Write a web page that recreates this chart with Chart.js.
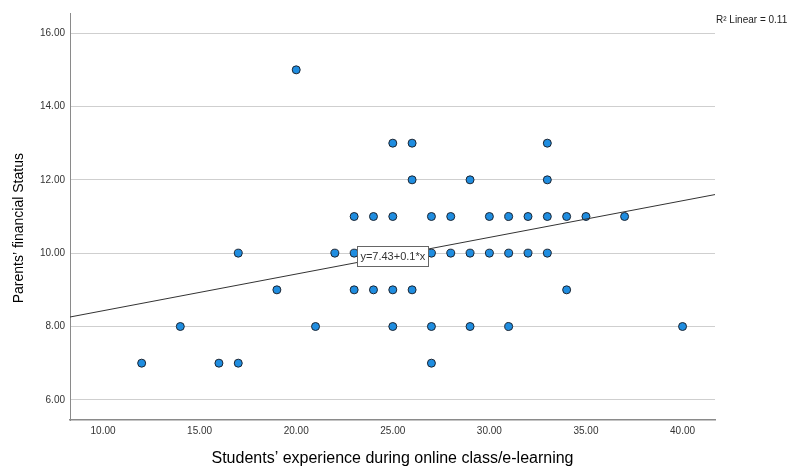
<!DOCTYPE html>
<html>
<head>
<meta charset="utf-8">
<script src="https://cdn.jsdelivr.net/npm/chart.js@4"></script>
<style>
  html, body { margin: 0; padding: 0; background: #fff; }
  #wrap { width: 788px; height: 468px; }
</style>
</head>
<body>
<div id="wrap"><canvas id="scatterChart" width="788" height="468"></canvas></div>
<script>
// students' experience (x) and parents' financial status (y), one entry per dot
const experience = [
  20,
  25, 26, 33,
  26, 29, 33,
  23, 24, 25, 27, 28, 30, 31, 32, 33, 34, 35, 37,
  17, 22, 23, 27, 28, 29, 30, 31, 32, 33,
  19, 23, 24, 25, 26, 34,
  14, 21, 25, 27, 29, 31, 40,
  12, 16, 17, 27
];
const financialStatus = [
  15,
  13, 13, 13,
  12, 12, 12,
  11, 11, 11, 11, 11, 11, 11, 11, 11, 11, 11, 11,
  10, 10, 10, 10, 10, 10, 10, 10, 10, 10,
  9, 9, 9, 9, 9, 9,
  8, 8, 8, 8, 8, 8, 8,
  7, 7, 7, 7
];
const xTicks = [10, 15, 20, 25, 30, 35, 40];
const yTicks = [6, 8, 10, 12, 14, 16];
const xRange = [8.29, 41.68];
const yRange = [5.45, 16.55];

// fit line from the chart: y = 7.43 + 0.1*x, R2 = 0.11
const intercept = 7.43;
const slope = 0.1;
const rSquared = '0.11';
const labelAtX = 25;

const FONT = '"Liberation Sans", Arial, sans-serif';

const points = experience.map((x, i) => ({ x: x, y: financialStatus[i] }));
const fitLine = xRange.map(x => ({ x: x, y: intercept + slope * x }));

const fitLabels = {
  id: 'fitLabels',
  afterDatasetsDraw(chart) {
    const ctx = chart.ctx;
    const xs = chart.scales.x, ys = chart.scales.y;
    ctx.save();
    // equation box sitting on the fit line
    const cx = xs.getPixelForValue(labelAtX);
    const cy = ys.getPixelForValue(intercept + slope * labelAtX);
    const text = 'y=' + intercept + '+' + slope + '*x';
    ctx.font = '11px ' + FONT;
    const w = ctx.measureText(text).width + 6;
    const h = 20;
    ctx.fillStyle = '#fff';
    ctx.fillRect(Math.round(cx - w / 2) + 0.5, Math.round(cy - h / 2) + 0.5, Math.round(w), h);
    ctx.strokeStyle = '#666';
    ctx.lineWidth = 1;
    ctx.strokeRect(Math.round(cx - w / 2) + 0.5, Math.round(cy - h / 2) + 0.5, Math.round(w), h);
    ctx.fillStyle = '#333';
    ctx.textAlign = 'center';
    ctx.textBaseline = 'middle';
    ctx.fillText(text, cx, cy + 1);
    // R2 note top right
    ctx.textAlign = 'left';
    ctx.textBaseline = 'alphabetic';
    ctx.font = '10px ' + FONT;
    ctx.fillStyle = '#222';
    ctx.fillText('R\u00B2 Linear = ' + rSquared, chart.chartArea.right + 1, 23);
    ctx.restore();
  }
};

const ctx = document.getElementById('scatterChart').getContext('2d');
new Chart(ctx, {
  type: 'scatter',
  data: {
    datasets: [
      {
        type: 'line',
        data: fitLine,
        borderColor: '#333',
        borderWidth: 1,
        pointRadius: 0,
        fill: false,
        order: 0
      },
      {
        data: points,
        backgroundColor: '#1f8de0',
        borderColor: '#1c2430',
        borderWidth: 1,
        pointRadius: 4,
        order: 1
      }
    ]
  },
  plugins: [fitLabels],
  options: {
    responsive: false,
    animation: false,
    layout: { padding: { top: 13, right: 73, left: 0, bottom: 0 } },
    plugins: {
      legend: { display: false },
      tooltip: { enabled: false }
    },
    scales: {
      x: {
        type: 'linear',
        min: xRange[0],
        max: xRange[1],
        afterBuildTicks: s => { s.ticks = xTicks.map(v => ({ value: v })); },
        afterFit: s => { s.height = 48; },
        grid: { display: false, drawTicks: false },
        border: { display: true, color: '#8a8a8a', width: 1.5 },
        ticks: {
          padding: 5,
          color: '#333',
          font: { family: FONT, size: 10 },
          callback: v => Number(v).toFixed(2)
        },
        title: {
          display: true,
          text: 'Students\u2019 experience during online class/e-learning',
          color: '#000',
          font: { family: FONT, size: 16 },
          padding: { top: 0, bottom: 0 }
        }
      },
      y: {
        min: yRange[0],
        max: yRange[1],
        afterBuildTicks: s => { s.ticks = yTicks.map(v => ({ value: v })); },
        afterFit: s => { s.width = 70; },
        grid: { color: '#cfcfcf', lineWidth: 1, drawTicks: false },
        border: { display: true, color: '#8a8a8a', width: 1 },
        ticks: {
          padding: 5,
          color: '#333',
          font: { family: FONT, size: 10 },
          callback: v => Number(v).toFixed(2)
        },
        title: {
          display: true,
          text: 'Parents\u2019 financial Status      ',
          color: '#000',
          font: { family: FONT, size: 14 },
          padding: { top: 11, bottom: 0 }
        }
      }
    }
  }
});
</script>
</body>
</html>
